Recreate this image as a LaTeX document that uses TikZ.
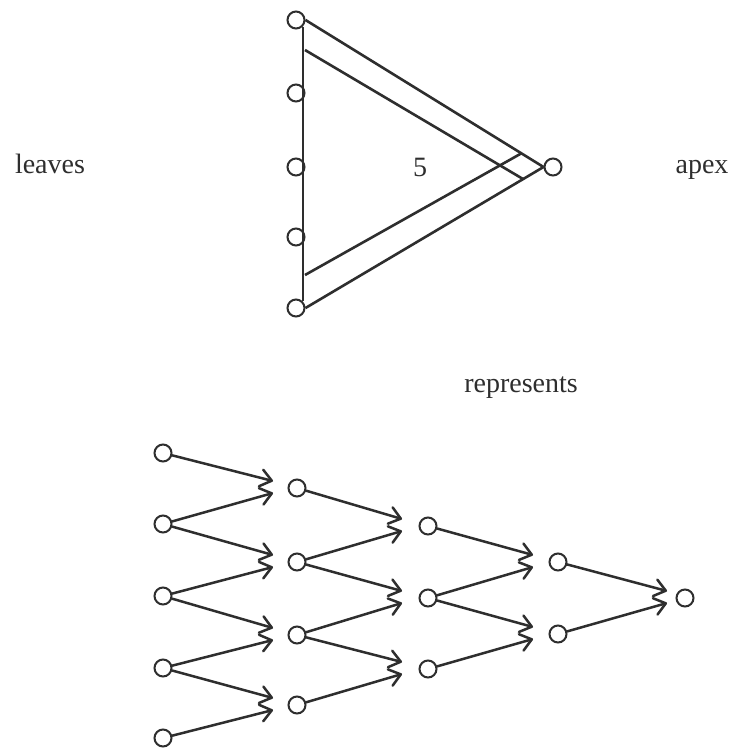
\documentclass[tikz,border=0pt]{standalone}
\usepackage{fontspec}
\setmainfont{Liberation Serif}
\usetikzlibrary{arrows.meta,calc}
\definecolor{ink}{HTML}{2E2E2E}
\begin{document}
\begin{tikzpicture}[x=1pt,y=-1pt,
  nd/.style={circle, draw=ink, line width=2pt, minimum size=17pt, inner sep=0pt},
  edge/.style={draw=ink, line width=2.6pt},
  thin edge/.style={draw=ink, line width=2pt},
  arr/.style={draw=ink, line width=2.5pt, line cap=round,
    -{Straight Barb[length=11pt,width=17pt,round]}},
  lbl/.style={text=ink, font=\fontsize{28}{32}\selectfont, inner sep=0pt, anchor=base}]
\useasboundingbox (0,0) rectangle (731,750);
\fill[white] (0,0) rectangle (731,750);
% ---- top triangle ----
\foreach \i/\y in {0/20,1/93,2/167,3/237,4/308}
  \node[nd] (L\i) at (296,\y) {};
\node[nd] (A) at (553,167) {};
\draw[thin edge] (L0.south east) -- (L4.north east);
\draw[edge] (L0.east) -- (A.west);
\draw[edge] (L4.east) -- (A.west);
\coordinate (i1s) at (305,50);
\coordinate (i1e) at (523,179);
\coordinate (i2s) at (305,275);
\coordinate (i2e) at (522,153);
\draw[edge] (i1s) -- (i1e);
\draw[edge] (i2s) -- (i2e);
\node[lbl] (five) at (420,176) {5};
\node[lbl] (leaves) at (50,173) {leaves};
\node[lbl] (apex) at (702,173) {apex};
\node[lbl] (rep) at (521,392) {represents};
% ---- network ----
\foreach \i/\y in {0/453,1/524,2/596,3/668,4/738}
  \node[nd] (a\i) at (163,\y) {};
\foreach \i/\y in {0/488,1/562,2/635,3/705}
  \node[nd] (b\i) at (297,\y) {};
\foreach \i/\y in {0/526,1/598,2/669}
  \node[nd] (c\i) at (428,\y) {};
\foreach \i/\y in {0/562,1/634}
  \node[nd] (d\i) at (558,\y) {};
\node[nd] (e0) at (685,598) {};
\foreach \s/\t/\n/\dx in {a/b/3/-24,b/c/2/-26,c/d/1/-25,d/e/0/-18}{
  \foreach \j in {0,...,\n}{
    \pgfmathtruncatemacro{\k}{\j+1}
    \draw[arr] (\s\j) -- ($(\t\j)+(\dx,-7)$);
    \draw[arr] (\s\k) -- ($(\t\j)+(\dx,5)$);
  }
}
\end{tikzpicture}
\end{document}
